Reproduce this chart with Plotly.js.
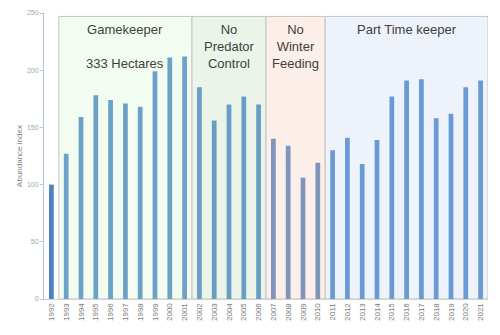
<!DOCTYPE html>
<html>
<head>
<meta charset="utf-8">
<script src="https://cdn.plot.ly/plotly-3.0.1.min.js"></script>
<style>html,body{margin:0;padding:0;background:#fff;}#chart{width:500px;height:335px;}</style>
</head>
<body>
<div id="chart"></div>
<script>
const years = ["1992","1993","1994","1995","1996","1997","1998","1999","2000","2001",
  "2002","2003","2004","2005","2006","2007","2008","2009","2010",
  "2011","2012","2013","2014","2015","2016","2017","2018","2019","2020","2021"];
const abundance = [100,127,159,178,174,171,168,199,211,212,
  185,156,170,177,170,140,134,106,119,
  130,141,118,139,177,191,192,158,162,185,191];
const periodLabels = ["Gamekeeper<br><br>333 Hectares","No<br>Predator<br>Control","No<br>Winter<br>Feeding","Part Time keeper"];
const periodStart = [0.5, 9.5, 14.5, 18.5];
const periodEnd = [9.5, 14.5, 18.5, 29.5];
const periodFill = ["#F2FCF0","#EBF4E8","#FCEEE8","#EEF2FA"];
const periodBar = ["#6CA2C8","#6A9DC4","#7E96BC","#6A9AD4"];

const barColors = abundance.map((v,i)=>{
  if (i===0) return "#4F81C0";
  for (let p=0;p<periodStart.length;p++){
    if (i>periodStart[p] && i<periodEnd[p]) return periodBar[p];
  }
  return "#4F81C0";
});

const shapes = periodStart.map((s,p)=>({
  type:"rect", xref:"x", yref:"y", x0:s, x1:periodEnd[p], y0:0, y1:247,
  fillcolor:periodFill[p], line:{color:"#C4C4C4", width:1}, layer:"below"
}));

const annotations = periodLabels.map((t,p)=>({
  x:(periodStart[p]+periodEnd[p])/2, y:247, xref:"x", yref:"y",
  text:t, showarrow:false, yanchor:"top", yshift:-4,
  font:{family:"Liberation Sans, Arial, sans-serif", size:13, color:"#404040"},
  align:"center"
}));

const trace = {
  type:"bar", x:years, y:abundance,
  marker:{color:barColors}, hoverinfo:"x+y"
};

const layout = {
  width:500, height:335,
  margin:{l:44, r:12, t:13, b:36},
  paper_bgcolor:"#ffffff", plot_bgcolor:"rgba(0,0,0,0)",
  bargap:0.68, showlegend:false,
  shapes:shapes, annotations:annotations,
  xaxis:{type:"category", tickangle:-90, showgrid:false, zeroline:false,
    showline:true, linecolor:"#D0D0D0", linewidth:1, ticks:"",
    tickfont:{family:"Liberation Sans Narrow, Arial Narrow, sans-serif", size:8, color:"#7A7A7A"},
    range:[-0.5,29.5]},
  yaxis:{range:[0,250], tickvals:[0,50,100,150,200,250], showgrid:false, zeroline:false,
    showline:true, linecolor:"#AFC3E6", linewidth:1, ticks:"outside", ticklen:3, tickcolor:"#AFC3E6",
    tickfont:{family:"Liberation Sans Narrow, Arial Narrow, sans-serif", size:7, color:"#A6A6A6"},
    title:{text:"Abundance index", standoff:3, font:{family:"Liberation Sans, Arial, sans-serif", size:8, color:"#7F7F7F"}}}
};

Plotly.newPlot("chart",[trace],layout,{displayModeBar:false, staticPlot:true});
</script>
</body>
</html>
